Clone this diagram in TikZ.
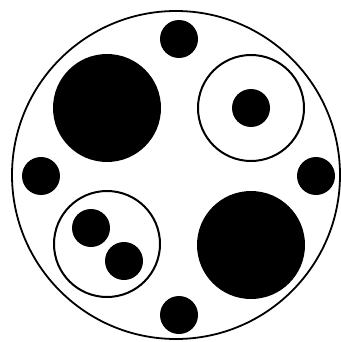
\documentclass[tikz,border=0pt]{standalone}
\usepackage{tikz}
\usetikzlibrary{positioning}

\begin{document}
\begin{tikzpicture}[x=1pt, y=-1pt,
            dot/.style={circle, fill=black, inner sep=0pt, outer sep=0pt, minimum size=38pt},
            blob/.style={circle, fill=black, inner sep=0pt, outer sep=0pt, minimum size=108pt},
            ring/.style={circle, draw=black, line width=2pt, inner sep=0pt, outer sep=0pt, minimum size=106pt},
            rim/.style={circle, draw=black, line width=1.8pt, inner sep=0pt, outer sep=0pt, minimum size=328pt}
        ]

            \useasboundingbox (0,0) rectangle (340,342);

            % Outer boundary
            \node[rim] (outer) at (176,175) {};

            % Small dots on the four sides
            \node[dot] (top)    at (179, 39) {};
            \node[dot] (bottom) at (179,315) {};
            \node[dot] (left)   at (41,176) {};
            \node[dot] (right)  at (316,176) {};

            % Solid discs
            \node[blob] (tl) at (107,108) {};
            \node[blob] (br) at (251,245) {};

            % Rings with dots inside
            \node[ring] (tr) at (251,108) {};
            \node[dot]  (tr1) at (tr.center) {};

            \node[ring] (bl) at (107,244) {};
            \node[dot]  (bl1) at (91,228) {};
            \node[dot]  (bl2) at (124,261) {};

        \end{tikzpicture}
\end{document}
